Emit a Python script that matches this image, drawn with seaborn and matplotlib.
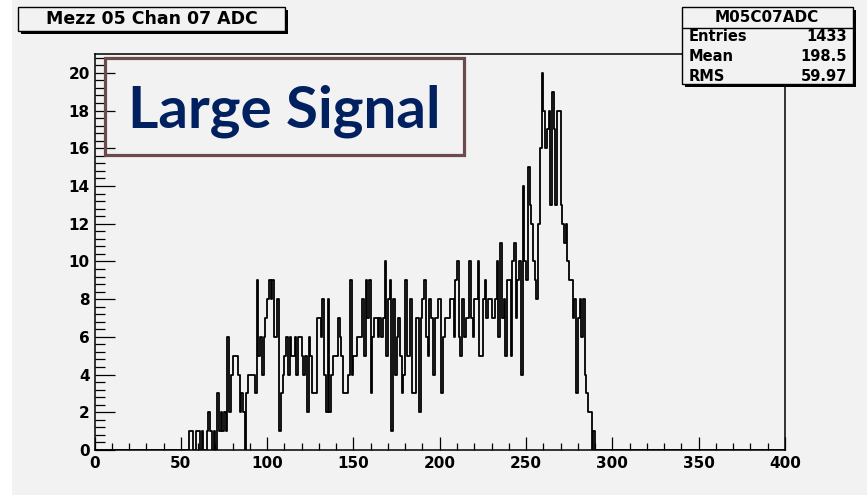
import numpy as np
import pandas as pd
import matplotlib
matplotlib.use("Agg")
import matplotlib.pyplot as plt
import seaborn as sns
from matplotlib.patches import Rectangle
from matplotlib.lines import Line2D
from matplotlib.ticker import MultipleLocator

# ---------------- data ----------------
first_bin = 52  # lower edge of first listed bin (bin width 1 ADC count)
counts = [
    # 52-76
    0, 0, 0, 1, 1, 0, 0, 1, 1, 0, 1, 0, 0, 1, 2, 1, 0, 1, 0, 3, 1, 2, 1, 2, 1,
    # 77-118
    6, 2, 4, 5, 5, 5, 4, 2, 3, 2, 0, 3, 4, 4, 4, 4, 3, 9, 5, 6,
    4, 6, 7, 8, 9, 8, 9, 6, 6, 8, 1, 3, 4, 5, 6, 4, 6, 5, 5, 6, 4, 6,
    # 119-187
    6, 5, 4, 5, 2, 6, 5, 3, 3, 3, 7, 7, 6, 8, 4, 2, 8, 2, 4, 5,
    5, 5, 7, 6, 5, 3, 3, 3, 4, 9, 4, 5, 5, 6, 6, 6, 8, 5, 9, 7,
    9, 3, 6, 7, 7, 6, 7, 6, 7, 10, 5, 8, 9, 1, 8, 4, 6, 7, 5, 3,
    4, 9, 5, 5, 8, 3, 3, 7, 7,
    # 188-193
    2, 7, 8, 9, 6, 5,
    # 194-222
    8, 7, 4, 7, 7, 8, 8, 3, 6, 7, 7, 7, 8, 8, 6, 9, 10, 6, 5, 8,
    6, 7, 7, 10, 7, 6, 8, 8, 10,
    # 223-290
    5, 5, 8, 9, 7, 8, 8, 7, 7, 8, 10, 6, 11, 7, 8, 5, 9, 9, 5, 10,
    11, 7, 9, 10, 4, 14, 10, 9, 15, 13, 12, 10, 9, 8, 12, 16, 20, 18, 16, 17,
    18, 13, 19, 17, 13, 18, 18, 13, 12, 11, 12, 10, 9, 9, 7, 8, 3, 7, 8, 6,
    8, 4, 3, 2, 2, 0, 1, 0,
]
adc_lower_edges = np.arange(first_bin, first_bin + len(counts))
hist_range = (0, 400)

title_text = "Mezz 05 Chan 07 ADC"
stats_name = "M05C07ADC"
stats_labels = ["Entries", "Mean", "RMS"]
stats_values = ["1433", "198.5", "59.97"]
annotation_text = "Large Signal"

# ---------------- style ----------------
sns.set_theme(style="white")
plt.rcParams['font.family'] = ['DejaVu Sans']

W, H = 867, 495
BG = '#f2f2f2'
fig = plt.figure(figsize=(W / 100, H / 100), dpi=100, facecolor=BG)


def fx(px):
    return px / W


def fy(py):
    return 1 - py / H


# white strip at the left edge
fig.patches.append(Rectangle((0, 0), fx(12), 1, transform=fig.transFigure,
                             facecolor='white', edgecolor='none', zorder=0))

ax = fig.add_axes([fx(94.5), fy(450), fx(785) - fx(94.5), fy(54) - fy(450)])
ax.set_facecolor(BG)

df = pd.DataFrame({"adc": (adc_lower_edges + 0.5).astype(float),
                   "entries": np.asarray(counts, dtype=float)})
sns.histplot(data=df, x="adc", weights="entries",
             binwidth=1, binrange=hist_range,
             element="step", fill=False, color="black", linewidth=1.3, ax=ax)

ax.set_xlim(*hist_range)
ax.set_ylim(0, 21)
ax.set_xlabel("")
ax.set_ylabel("")

for s in ax.spines.values():
    s.set_color('black')
    s.set_linewidth(1.1)

ax.xaxis.set_major_locator(MultipleLocator(50))
ax.xaxis.set_minor_locator(MultipleLocator(10))
ax.yaxis.set_major_locator(MultipleLocator(2))
ax.yaxis.set_minor_locator(MultipleLocator(0.4))

ax.tick_params(axis='x', which='major', direction='in', length=9.5, width=0.9,
               color='black', bottom=True, top=False, pad=4, labelsize=11)
ax.tick_params(axis='x', which='minor', direction='in', length=5, width=0.9,
               color='black', bottom=True, top=False)
ax.tick_params(axis='y', which='major', direction='in', length=14.5, width=0.9,
               color='black', left=True, right=False, pad=3.5, labelsize=11)
ax.tick_params(axis='y', which='minor', direction='in', length=7.2, width=0.9,
               color='black', left=True, right=False)
for lab in ax.get_xticklabels() + ax.get_yticklabels():
    lab.set_fontweight('bold')
    lab.set_color('black')


# ---------------- title box ----------------
def shadow_box(x0, y0, x1, y1, z=5):
    fig.patches.append(Rectangle((fx(x0 + 3), fy(y1 + 3)), fx(x1) - fx(x0), fy(y0) - fy(y1),
                                 transform=fig.transFigure, facecolor='black',
                                 edgecolor='none', zorder=z))
    fig.patches.append(Rectangle((fx(x0), fy(y1)), fx(x1) - fx(x0), fy(y0) - fy(y1),
                                 transform=fig.transFigure, facecolor=BG,
                                 edgecolor='black', linewidth=1.0, zorder=z + 1))


shadow_box(18, 7, 285, 31)
fig.text(fx(152), fy(19.5), title_text, ha='center', va='center',
         fontsize=12.5, fontweight='bold', color='black', zorder=10)

# ---------------- stats box ----------------
shadow_box(682, 7, 853, 84)
fig.lines.append(Line2D([fx(682), fx(853)], [fy(28), fy(28)], transform=fig.transFigure,
                        color='black', linewidth=1.0, zorder=8))
fig.text(fx(767), fy(17.5), stats_name, ha='center', va='center',
         fontsize=11, fontweight='bold', color='black', zorder=10)
for i, (lab, val) in enumerate(zip(stats_labels, stats_values)):
    yy = 36.5 + 20 * i
    fig.text(fx(689), fy(yy), lab, ha='left', va='center',
             fontsize=10.5, fontweight='bold', color='black', zorder=10)
    fig.text(fx(847), fy(yy), val, ha='right', va='center',
             fontsize=10.5, fontweight='bold', color='black', zorder=10)

# ---------------- annotation ----------------
fig.patches.append(Rectangle((fx(105), fy(155)), fx(464) - fx(105), fy(58) - fy(155),
                             transform=fig.transFigure, facecolor='none',
                             edgecolor='#6b4b4b', linewidth=2.3, zorder=12))
fig.text(fx(284), fy(127), annotation_text, ha='center', va='baseline',
         fontsize=42, fontweight='bold', color='#002060',
         family=['Lato', 'DejaVu Sans'], zorder=13)

fig.savefig("out.png", dpi=100, facecolor=BG)
